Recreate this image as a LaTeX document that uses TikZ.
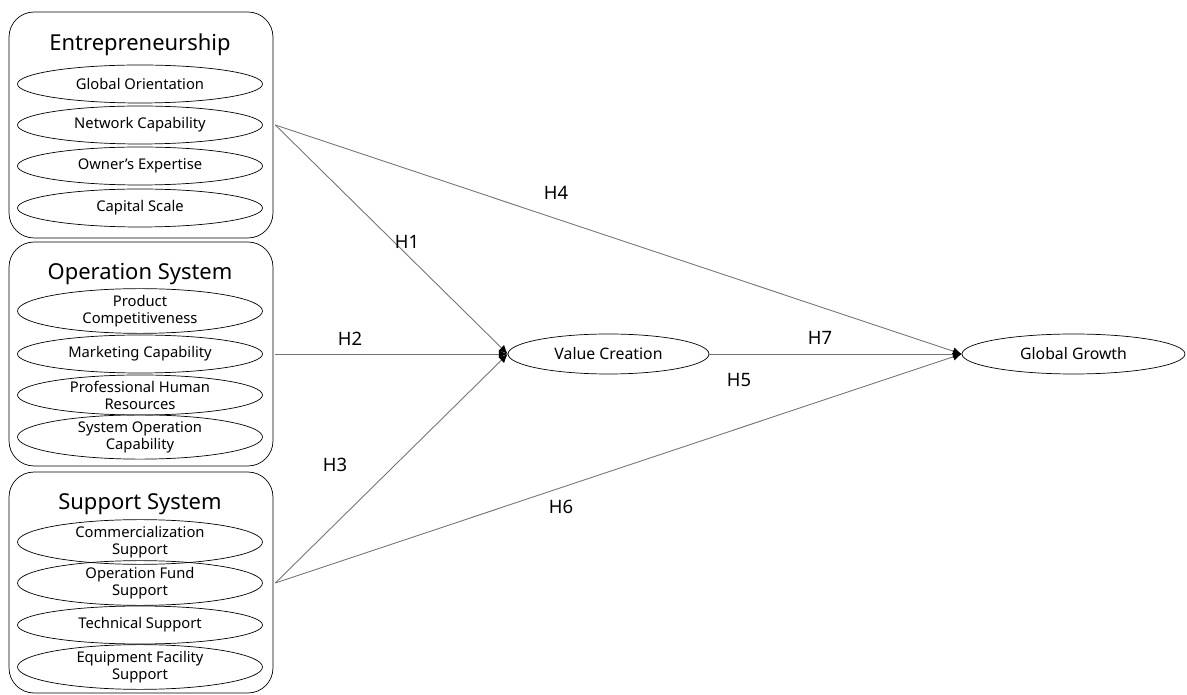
\documentclass[tikz,border=0pt]{standalone}
\usepackage{fontspec}
\setmainfont{Noto Sans}
\usepackage{tikz}
\usetikzlibrary{shapes.geometric, positioning, arrows.meta, calc}

\begin{document}
\begin{tikzpicture}[x=0.02cm, y=-0.02cm,
    grp/.style={draw, rounded corners=0.5cm, minimum width=5.28cm, inner sep=0pt},
    item/.style={draw, ellipse, minimum width=4.9cm, minimum height=0.76cm, inner sep=0pt,
                 font=\fontsize{8.4}{9.6}\selectfont, align=center},
    latent/.style={draw, ellipse, minimum height=0.8cm, inner sep=0pt, font=\small},
    title/.style={font=\fontsize{12.5}{14}\selectfont},
    path/.style={draw=black!55, line width=0.5pt, -{Latex[length=5pt, width=4.5pt, black]}},
    hyp/.style={font=\fontsize{10.5}{12}\selectfont}]

    \useasboundingbox (0,0) rectangle (1187,695);

    % 1. Group boxes (left)
    \node[grp, minimum height=4.52cm] (ent) at (141, 125) {};
    \node[grp, minimum height=4.48cm] (ops) at (141, 354) {};
    \node[grp, minimum height=4.42cm] (sup) at (141, 582.5) {};

    % 2. Titles
    \node[title] (entT) at (140, 45) {Entrepreneurship};
    \node[title] (opsT) at (140, 274) {Operation System};
    \node[title] (supT) at (140, 504) {Support System};

    % 3. Entrepreneurship items
    \node[item] (go) at (140, 84) {Global Orientation};
    \node[item] (nc) at (140, 125) {Network Capability};
    \node[item] (oe) at (140, 166) {Owner's Expertise};
    \node[item] (cs) at (140, 208) {Capital Scale};

    % 4. Operation System items
    \node[item] (pc) at (140, 311) {Product\\Competitiveness};
    \node[item] (mc) at (140, 354) {Marketing Capability};
    \node[item] (ph) at (140, 395) {Professional Human\\Resources};
    \node[item] (so) at (140, 437) {System Operation\\Capability};

    % 5. Support System items
    \node[item] (co) at (140, 542) {Commercialization\\Support};
    \node[item] (of) at (140, 583) {Operation Fund\\Support};
    \node[item] (ts) at (140, 625) {Technical Support};
    \node[item] (ef) at (140, 667) {Equipment Facility\\Support};

    % 6. Mediator and outcome
    \node[latent, minimum width=4.02cm] (vc) at (608.5, 354) {Value Creation};
    \node[latent, minimum width=4.46cm] (gg) at (1073.5, 354) {Global Growth};

    % 7. Paths
    \draw[path] ($(ent.east |- nc.east)+(2,0)$) -- (vc.west);
    \draw[path] ($(ent.east |- nc.east)+(2,0)$) -- (gg.west);
    \draw[path] ($(ops.east |- mc.east)+(2,0)$) -- (vc.west);
    \draw[path] ($(sup.east |- of.east)+(2,0)$) -- (vc.west);
    \draw[path] ($(sup.east |- of.east)+(2,0)$) -- (gg.west);
    \draw[path] (vc.east) -- (gg.west);

    % 8. Hypothesis labels
    \node[hyp] (h1) at (407, 242) {H1};
    \node[hyp] (h2) at (350, 339) {H2};
    \node[hyp] (h3) at (335, 465) {H3};
    \node[hyp] (h4) at (556, 193) {H4};
    \node[hyp] (h5) at (739, 380) {H5};
    \node[hyp] (h6) at (561, 507) {H6};
    \node[hyp] (h7) at (820, 338) {H7};

\end{tikzpicture}
\end{document}
